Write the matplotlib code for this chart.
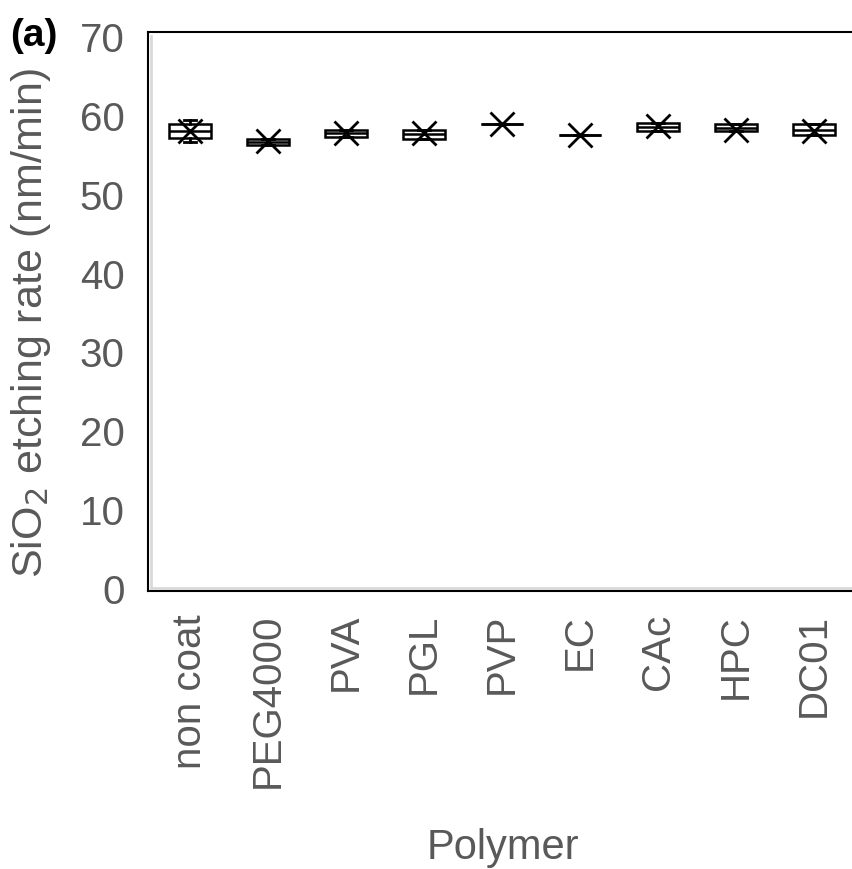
import matplotlib
matplotlib.use("Agg")
import matplotlib.pyplot as plt

polymers = ["non coat", "PEG4000", "PVA", "PGL", "PVP", "EC", "CAc", "HPC", "DC01"]
whislo = [56.6, 56.2, 57.2, 57.0, 58.8, 57.5, 58.0, 57.9, 57.5]
q1 = [57.1, 56.2, 57.2, 57.0, 58.8, 57.5, 58.0, 57.9, 57.5]
med = [58.0, 56.6, 57.7, 57.6, 58.8, 57.5, 58.5, 58.3, 58.1]
q3 = [58.9, 57.0, 58.1, 58.1, 58.8, 57.5, 59.0, 58.8, 58.8]
whishi = [59.3, 57.0, 58.1, 58.1, 58.8, 57.5, 59.0, 58.8, 58.8]
means = [58.0, 56.7, 57.7, 57.7, 58.9, 57.5, 58.6, 58.1, 58.0]

plt.rcParams['font.family'] = ['Liberation Sans', 'DejaVu Sans']
grey = '#595959'

fig = plt.figure(figsize=(8.52, 8.70), dpi=100)
W, H = 852, 870

# outer black frame
frame = fig.add_axes([148 / W, (H - 592) / H, 1.2, (592 - 33) / H])
frame.set_xticks([])
frame.set_yticks([])
frame.patch.set_visible(False)
frame.spines['right'].set_visible(False)
for s in ['left', 'top', 'bottom']:
    frame.spines[s].set_linewidth(1.5)
    frame.spines[s].set_color('black')

ax = fig.add_axes([151 / W, (H - 589) / H, 702 / W, (589 - 37) / H])
ax.patch.set_visible(False)

stats = []
for i, name in enumerate(polymers):
    stats.append(dict(label=name, whislo=whislo[i], q1=q1[i], med=med[i],
                      q3=q3[i], whishi=whishi[i], mean=means[i], fliers=[]))

ax.bxp(stats, positions=range(len(polymers)), widths=0.53, showmeans=True,
       patch_artist=True,
       boxprops=dict(facecolor='white', edgecolor='black', linewidth=1.8),
       medianprops=dict(color='black', linewidth=1.8),
       whiskerprops=dict(color='black', linewidth=2),
       capprops=dict(color='black', linewidth=2),
       capwidths=0.15,
       meanprops=dict(marker='x', markeredgecolor='black', markersize=17,
                      markeredgewidth=2))

ax.set_xlim(-0.5, len(polymers) - 0.5)
ax.set_ylim(0, 70)
ax.set_yticks(range(0, 71, 10))
ax.set_xticks(range(len(polymers)))
ax.set_xticklabels(polymers, rotation=90)
ax.tick_params(axis='both', length=0, colors=grey, labelsize=29)
ax.tick_params(axis='y', pad=19)
ax.tick_params(axis='x', pad=18)
ax.spines['top'].set_visible(False)
ax.spines['right'].set_visible(False)
ax.spines['left'].set_color('#d9d9d9')
ax.spines['bottom'].set_color('#d9d9d9')
ax.spines['left'].set_linewidth(2)
ax.spines['bottom'].set_linewidth(2)

fig.text(31 / W, 1 - 323 / H, 'SiO$_2$ etching rate (nm/min)', rotation=90,
         ha='center', va='center', fontsize=31, color=grey)
fig.text(503 / W, 1 - 848 / H, 'Polymer', ha='center', va='center',
         fontsize=30, color=grey)
fig.text(10 / W, 1 - 36 / H, '(a)', ha='left', va='center',
         fontsize=28, fontweight='bold', color='black')

fig.savefig('out.png', dpi=100)
